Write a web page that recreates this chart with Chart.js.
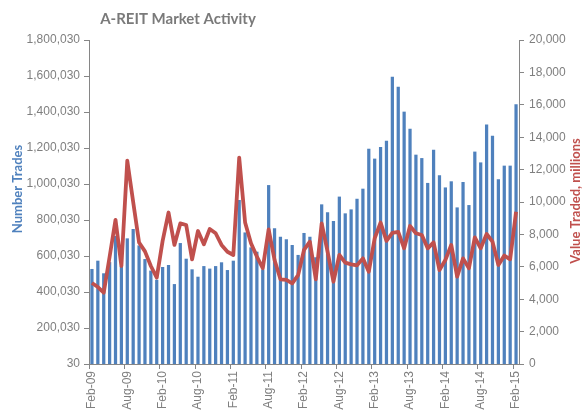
<!DOCTYPE html>
<html>
<head>
<meta charset="utf-8">
<script src="https://cdn.jsdelivr.net/npm/chart.js@4"></script>
<style>
  body { margin: 0; background: #fff; }
  #wrap { width: 583px; height: 410px; position: relative; }
</style>
</head>
<body>
<div id="wrap"><canvas id="chart"></canvas></div>
<script>
const months = [
  "Feb-09", "Mar-09", "Apr-09", "May-09", "Jun-09", "Jul-09", "Aug-09", "Sep-09", "Oct-09", "Nov-09", "Dec-09",
  "Jan-10", "Feb-10", "Mar-10", "Apr-10", "May-10", "Jun-10", "Jul-10", "Aug-10", "Sep-10", "Oct-10", "Nov-10", "Dec-10",
  "Jan-11", "Feb-11", "Mar-11", "Apr-11", "May-11", "Jun-11", "Jul-11", "Aug-11", "Sep-11", "Oct-11", "Nov-11", "Dec-11",
  "Jan-12", "Feb-12", "Mar-12", "Apr-12", "May-12", "Jun-12", "Jul-12", "Aug-12", "Sep-12", "Oct-12", "Nov-12", "Dec-12",
  "Jan-13", "Feb-13", "Mar-13", "Apr-13", "May-13", "Jun-13", "Jul-13", "Aug-13", "Sep-13", "Oct-13", "Nov-13", "Dec-13",
  "Jan-14", "Feb-14", "Mar-14", "Apr-14", "May-14", "Jun-14", "Jul-14", "Aug-14", "Sep-14", "Oct-14", "Nov-14", "Dec-14",
  "Jan-15", "Feb-15",
];

// number of trades (left axis)
const numberTrades = [
  528000, 574000, 504000, 566000, 711000, 545000, 698000, 750000, 659000, 583000, 519000,
  468000, 539000, 550000, 444000, 672000, 585000, 526000, 485000, 544000, 530000, 544000, 565000,
  522000, 574000, 911000, 731000, 648000, 624000, 526000, 994000, 754000, 707000, 693000, 661000,
  606000, 728000, 707000, 593000, 887000, 843000, 794000, 930000, 837000, 859000, 918000, 974000,
  1196000, 1141000, 1206000, 1241000, 1596000, 1541000, 1402000, 1307000, 1163000, 1144000, 1006000, 1191000,
  1048000, 981000, 1015000, 870000, 1011000, 883000, 1180000, 1120000, 1330000, 1268000, 1026000, 1102000,
  1102000, 1443000,
];

// value traded, millions (right axis)
const valueTraded = [
  5000, 4750, 4400, 6620, 8900, 6050, 12550, 10000, 7500, 6950, 6050,
  5330, 7600, 9350, 7350, 8680, 8580, 6460, 8210, 7390, 8330, 8070, 7350,
  6930, 6730, 12740, 8740, 7450, 6630, 5910, 8310, 6420, 5230, 5190, 4980,
  5490, 7040, 7550, 5230, 8680, 6930, 5080, 6730, 6260, 6150, 6090, 6520,
  5700, 7760, 8730, 7600, 8100, 8150, 7140, 8520, 8070, 7960, 7140, 7510,
  5800, 6420, 7350, 5390, 6520, 5910, 7820, 7140, 8025, 7550, 6110, 6690,
  6460, 9400,
];

const leftTicks = { min: 30, max: 1800030, step: 200000 };
const rightTicks = { min: 0, max: 20000, step: 2000 };

const axisGrey = "#868686";
const tickGrey = "#7f7f7f";
const tickFont = { family: "Liberation Sans", size: 12 };

// chart title and axis titles (right one reads bottom to top)
const titles = {
  id: "titles",
  afterDraw(chart) {
    const c = chart.ctx;
    c.save();
    c.textAlign = "center";
    c.textBaseline = "middle";
    c.font = "bold 15px Lato";
    c.fillStyle = "#7a7a7a";
    c.fillText("A-REIT Market Activity", 178, 19);

    c.font = "bold 13px Lato";
    c.fillStyle = "#4f81bd";
    c.translate(18, 189);
    c.rotate(-Math.PI / 2);
    c.fillText("Number Trades", 0, 0);
    c.restore();

    c.save();
    c.textAlign = "center";
    c.textBaseline = "middle";
    c.font = "bold 13px Lato";
    c.fillStyle = "#c0504d";
    c.translate(576, 201);
    c.rotate(-Math.PI / 2);
    c.fillText("Value Traded, millions", 0, 0);
    c.restore();
  },
};

const section = document.getElementById("chart");
const config = {
  type: "bar",
  data: {
    labels: months,
    datasets: [
      {
        type: "line",
        label: "Value Traded, millions",
        data: valueTraded,
        yAxisID: "y1",
        borderColor: "#c0504d",
        borderWidth: 3.8,
        pointRadius: 0,
        tension: 0,
        borderJoinStyle: "round",
        order: 1,
      },
      {
        label: "Number Trades",
        data: numberTrades,
        yAxisID: "y",
        backgroundColor: "#4f81bd",
        barPercentage: 0.55,
        categoryPercentage: 1,
        order: 2,
      },
    ],
  },
  options: {
    responsive: true,
    maintainAspectRatio: false,
    animation: false,
    layout: { padding: { top: 40, left: 0, right: 0, bottom: 0 } },
    plugins: {
      legend: { display: false },
      tooltip: { enabled: false },
    },
    scales: {
      x: {
        offset: true,
        afterFit(scale) { scale.height = 46; },
        border: { display: true, color: axisGrey },
        grid: {
          display: true,
          drawOnChartArea: false,
          drawTicks: true,
          tickLength: 5,
          color: (ctx) => (ctx.index % 6 === 0 ? axisGrey : "rgba(0,0,0,0)"),
        },
        ticks: {
          autoSkip: false,
          maxRotation: 90,
          minRotation: 90,
          padding: 2,
          color: tickGrey,
          font: tickFont,
          callback: (v, i) => (i % 6 === 0 ? months[i] : ""),
        },
      },
      y: {
        position: "left",
        min: leftTicks.min,
        max: leftTicks.max,
        afterFit(scale) { scale.width = 89; },
        border: { display: true, color: axisGrey },
        grid: { display: true, drawOnChartArea: false, tickLength: 5, color: axisGrey },
        ticks: { stepSize: leftTicks.step, padding: 4, color: tickGrey, font: tickFont },
      },
      y1: {
        position: "right",
        min: rightTicks.min,
        max: rightTicks.max,
        afterFit(scale) { scale.width = 64; },
        border: { display: true, color: axisGrey },
        grid: { display: true, drawOnChartArea: false, tickLength: 5, color: axisGrey },
        ticks: { stepSize: rightTicks.step, padding: 5, color: tickGrey, font: tickFont },
      },
    },
  },
  plugins: [titles],
};

const barChart = new Chart(section, config);
</script>
</body>
</html>
